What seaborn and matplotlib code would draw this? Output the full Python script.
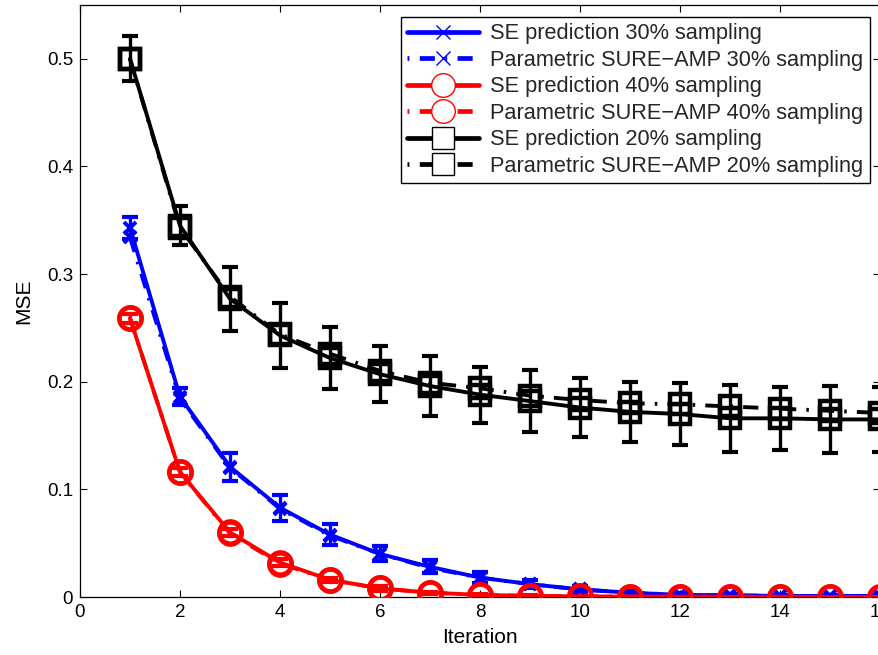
import numpy as np
import pandas as pd
import matplotlib
matplotlib.use("Agg")
import matplotlib.pyplot as plt
from matplotlib.lines import Line2D
import seaborn as sns

# Iterations of the AMP recursion
iterations = list(range(1, 17))

# 30% sampling
se_30 = [0.343, 0.186, 0.121, 0.083, 0.058, 0.040, 0.028, 0.018,
         0.012, 0.007, 0.004, 0.002, 0.0015, 0.001, 0.001, 0.001]
sure_30 = [0.334, 0.184, 0.120, 0.082, 0.057, 0.040, 0.027, 0.018,
           0.012, 0.007, 0.004, 0.002, 0.0015, 0.001, 0.001, 0.001]
err_30 = [0.010, 0.008, 0.013, 0.012, 0.010, 0.007, 0.006, 0.005,
          0.004, 0.003, 0.002, 0.002, 0.001, 0.001, 0.001, 0.001]

# 40% sampling
se_40 = [0.259, 0.116, 0.060, 0.032, 0.016, 0.008, 0.004, 0.002,
         0.001, 0.0006, 0.0004, 0.0003, 0.0002, 0.0002, 0.0001, 0.0001]
sure_40 = [0.259, 0.116, 0.059, 0.031, 0.016, 0.008, 0.004, 0.002,
           0.001, 0.0006, 0.0004, 0.0003, 0.0002, 0.0002, 0.0001, 0.0001]
err_40 = [0.004, 0.004, 0.003, 0.003, 0.002, 0.002, 0.001, 0.001,
          0.001, 0.001, 0.001, 0.001, 0.001, 0.001, 0.001, 0.001]

# 20% sampling
se_20 = [0.500, 0.345, 0.277, 0.243, 0.222, 0.207, 0.196, 0.188,
         0.182, 0.176, 0.172, 0.170, 0.166, 0.166, 0.165, 0.165]
sure_20 = [0.500, 0.343, 0.279, 0.244, 0.226, 0.210, 0.199, 0.194,
           0.187, 0.183, 0.180, 0.179, 0.177, 0.175, 0.173, 0.171]
err_20 = [0.021, 0.018, 0.030, 0.030, 0.029, 0.026, 0.028, 0.026,
          0.029, 0.027, 0.028, 0.029, 0.031, 0.029, 0.031, 0.030]

labels = [
    "SE prediction 30% sampling",
    "Parametric SURE\u2212AMP 30% sampling",
    "SE prediction 40% sampling",
    "Parametric SURE\u2212AMP 40% sampling",
    "SE prediction 20% sampling",
    "Parametric SURE\u2212AMP 20% sampling",
]

sns.set_theme(style="white")
plt.rcParams["font.family"] = ["Liberation Sans", "DejaVu Sans"]

fig = plt.figure(figsize=(8.79, 6.55), dpi=100)
ax = fig.add_axes([80 / 879, 58 / 655, 800 / 879, 592 / 655])

DASHDOT = (0, (3.9, 2.6, 0.65, 2.6))
LEG_DASHDOT = (0, (0.4, 2.2, 3.2, 2.2))
LW = 2.8

groups = [
    ("blue", "x", 9, 2.8, se_30, sure_30, err_30),
    ("red", "o", 16, 3.2, se_40, sure_40, err_40),
    ("black", "s", 14.5, 3.2, se_20, sure_20, err_20),
]

for color, marker, ms, mew, se_vals, sure_vals, err_vals in groups:
    df = pd.DataFrame({"iteration": iterations, "se": se_vals, "sure": sure_vals})
    ax.errorbar(iterations, se_vals, yerr=err_vals, fmt="none", ecolor=color,
                elinewidth=2.4, capsize=5.8, capthick=3.0, zorder=2)
    sns.lineplot(data=df, x="iteration", y="se", ax=ax, color=color, lw=LW,
                 marker=marker, markersize=ms, markerfacecolor="none",
                 markeredgecolor=color, markeredgewidth=mew,
                 errorbar=None, zorder=3)
    sns.lineplot(data=df, x="iteration", y="sure", ax=ax, color=color, lw=LW,
                 linestyle=DASHDOT, marker=marker, markersize=ms,
                 markerfacecolor="none", markeredgecolor=color,
                 markeredgewidth=mew, errorbar=None, zorder=3)

ax.set_xlim(0, 16)
ax.set_ylim(0, 0.55)
ax.set_xticks(np.arange(0, 17, 2))
ax.set_yticks([0, 0.1, 0.2, 0.3, 0.4, 0.5])
ax.set_yticklabels(["0", "0.1", "0.2", "0.3", "0.4", "0.5"])
ax.set_xlabel("Iteration", fontsize=15, color="black", labelpad=5)
ax.set_ylabel("MSE", fontsize=15, color="black", labelpad=10)
ax.tick_params(axis="both", which="both", direction="in", length=5, width=0.8,
               top=True, right=True, bottom=True, left=True,
               labelsize=13.5, labelcolor="black", color="black", pad=5)
for spine in ax.spines.values():
    spine.set_visible(True)
    spine.set_color("black")
    spine.set_linewidth(0.9)
ax.grid(False)

# Legend entries: thick line, thin marker outline
handles = []
for color, marker, ms, *_ in groups:
    for ls in ("-", LEG_DASHDOT):
        handles.append(Line2D([], [], color=color, lw=3.4, linestyle=ls,
                              marker=marker, markersize=ms + 1,
                              markerfacecolor="white" if marker != "x" else "none",
                              markeredgecolor=color, markeredgewidth=1.0))
leg = ax.legend(handles, labels, loc="upper right",
                bbox_to_anchor=(0.9875, 0.98), borderaxespad=0,
                fontsize=15.7, frameon=True, fancybox=False, shadow=False,
                handlelength=3.3, handletextpad=0.5, labelspacing=0.25,
                borderpad=0.3)
leg.get_frame().set_edgecolor("black")
leg.get_frame().set_linewidth(1.0)
leg.get_frame().set_alpha(1.0)

fig.savefig("out.png", dpi=100)
